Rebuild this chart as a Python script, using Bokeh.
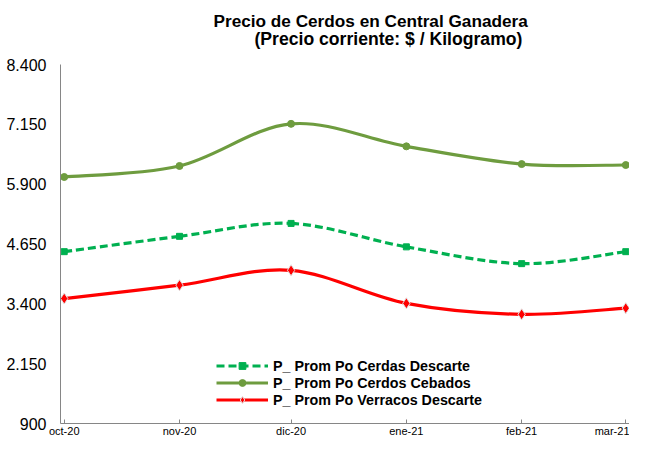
from datetime import datetime, timezone
from bokeh.plotting import figure
from bokeh.models import Range1d, FixedTicker, Label, Legend, LegendItem
from bokeh.embed import file_html
from bokeh.resources import INLINE

# ---- data ----
month_dates = ["2020-10-01", "2020-11-01", "2020-12-01", "2021-01-01", "2021-02-01", "2021-03-01"]
month_labels = ["oct-20", "nov-20", "dic-20", "ene-21", "feb-21", "mar-21"]
cerdas_descarte = [4490, 4810, 5080, 4590, 4240, 4490]
cerdos_cebados = [6050, 6280, 7160, 6690, 6320, 6300]
verracos_descarte = [3510, 3790, 4100, 3410, 3180, 3310]
y_ticks = [900, 2150, 3400, 4650, 5900, 7150, 8400]
y_tick_labels = ["900", "2.150", "3.400", "4.650", "5.900", "7.150", "8.400"]
title_line1 = "Precio de Cerdos en Central Ganadera"
title_line2 = "(Precio corriente: $ / Kilogramo)"

DAY = 86400000.0
x_ms = [datetime.strptime(d, "%Y-%m-%d").replace(tzinfo=timezone.utc).timestamp() * 1000.0 for d in month_dates]

FONT = "Liberation Sans"

# layout (pixels)
W, H = 629, 439
FRAME_BOTTOM = 423      # canvas y of the frame bottom (x-axis line)
AXIS_TOP_PX = 64        # canvas y where the value axis ends (top tick)
y_lo, y_hi = y_ticks[0], y_ticks[-1]
y_end = y_hi + AXIS_TOP_PX * (y_hi - y_lo) / (FRAME_BOTTOM - AXIS_TOP_PX)

p = figure(width=W, height=H, output_backend="svg", toolbar_location=None,
           x_range=Range1d(x_ms[0] - DAY, x_ms[-1] + DAY),
           y_range=Range1d(y_lo, y_end),
           min_border_left=60, min_border_right=0, min_border_top=0, min_border_bottom=0)
p.outline_line_color = None
p.xgrid.visible = False
p.ygrid.visible = False
p.background_fill_color = "white"
p.border_fill_color = "white"

# axes
p.xaxis.ticker = FixedTicker(ticks=x_ms)
p.xaxis.major_label_overrides = {x: lab for x, lab in zip(x_ms, month_labels)}
p.yaxis.ticker = FixedTicker(ticks=y_ticks)
p.yaxis.major_label_overrides = {t: lab for t, lab in zip(y_ticks, y_tick_labels)}
p.yaxis.bounds = (y_lo, y_hi)
for ax in (p.xaxis, p.yaxis):
    ax.axis_line_color = "#868686"
    ax.axis_line_width = 1
    ax.minor_tick_line_color = None
    ax.major_label_text_font = FONT
    ax.major_label_text_color = "black"
p.xaxis.major_tick_line_color = "#868686"
p.xaxis.major_tick_in = 4
p.xaxis.major_tick_out = 0
p.xaxis.major_label_standoff = 1
p.xaxis.major_label_text_font_size = "11px"
p.yaxis.major_tick_line_color = None
p.yaxis.major_tick_in = 0
p.yaxis.major_tick_out = 0
p.yaxis.major_label_standoff = 14
p.yaxis.major_label_text_font_size = "16px"


def smooth_segments(xs, ys):
    n = len(xs)
    seg = dict(x0=[], y0=[], x1=[], y1=[], cx0=[], cy0=[], cx1=[], cy1=[])
    for i in range(n - 1):
        ip = max(i - 1, 0)
        inx = min(i + 2, n - 1)
        seg["x0"].append(xs[i]); seg["y0"].append(ys[i])
        seg["x1"].append(xs[i + 1]); seg["y1"].append(ys[i + 1])
        seg["cx0"].append(xs[i] + (xs[i + 1] - xs[ip]) / 6.0)
        seg["cy0"].append(ys[i] + (ys[i + 1] - ys[ip]) / 6.0)
        seg["cx1"].append(xs[i + 1] - (xs[inx] - xs[i]) / 6.0)
        seg["cy1"].append(ys[i + 1] - (ys[inx] - ys[i]) / 6.0)
    return seg


series = [
    ("P_ Prom Po Cerdas Descarte", cerdas_descarte, "#00B050", "8 4", "square", 6, "#00B050"),
    ("P_ Prom Po Cerdos Cebados", cerdos_cebados, "#6E9C3F", "solid", "circle", 7, "#6E9C3F"),
    ("P_ Prom Po Verracos Descarte", verracos_descarte, "#FF0000", "solid", "diamond", 11, "#E0E0E0"),
]

items = []
for name, vals, color, dash, marker, size, mline in series:
    seg = smooth_segments(x_ms, vals)
    b = p.bezier(line_color=color, line_width=3.2, line_dash=dash, **seg)
    s = p.scatter(x_ms, vals, marker=marker, size=size, fill_color=color,
                  line_color=mline, line_width=1)
    items.append(LegendItem(label=name, renderers=[b, s]))

legend = Legend(items=items, location=(156, 15), orientation="vertical",
                padding=0, margin=0, spacing=0, border_line_color=None,
                background_fill_alpha=0, glyph_width=52, glyph_height=17,
                label_height=17, label_standoff=5,
                label_text_font=FONT, label_text_font_size="14.3px",
                label_text_font_style="bold", label_text_color="black")
p.add_layout(legend, "center")

for txt, xo, yc, fs in [(title_line1, 153, 20.7, "17.2px"), (title_line2, 194, 38.3, "17.6px")]:
    p.add_layout(Label(x=xo, y=FRAME_BOTTOM - yc, x_units="screen", y_units="screen",
                       text=txt, text_font=FONT, text_font_size=fs,
                       text_font_style="bold", text_color="black",
                       text_baseline="middle", text_align="left"))

open("out.html", "w").write(file_html(p, INLINE))
